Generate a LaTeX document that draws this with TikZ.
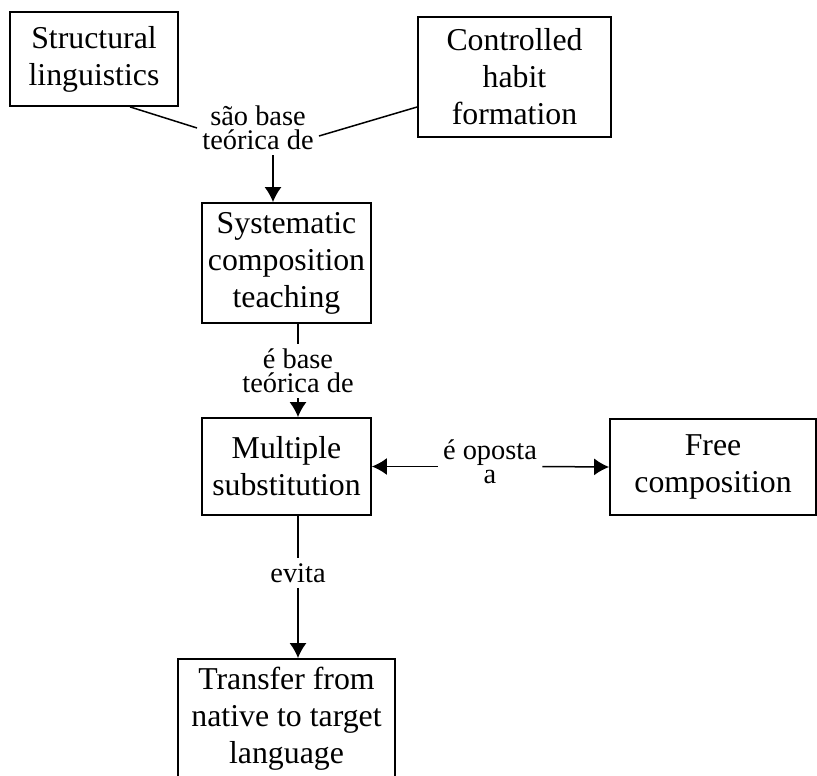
\documentclass[tikz,border=0pt]{standalone}
\usepackage{fontspec}
\setmainfont{Liberation Serif}
\usetikzlibrary{arrows.meta, positioning}

\begin{document}
\begin{tikzpicture}[x=0.5pt, y=-0.5pt,
        caja/.style={draw, line width=0.9pt, align=center, inner sep=0pt,
            font=\fontsize{15.9pt}{18.5pt}\selectfont},
        rel/.style={align=center, inner sep=2.5pt,
            font=\fontsize{14.2pt}{11.8pt}\selectfont},
        linea/.style={line width=0.75pt},
        flecha/.style={line width=0.75pt, -{Latex[length=7.5pt,width=8.5pt]}}]
        \useasboundingbox (0,0) rectangle (817,775);

        % Conceptos
        \node[caja, minimum width=84pt, minimum height=47pt] (estructural) at (94,59) {Structural\\linguistics};
        \node[caja, minimum width=96.5pt, minimum height=60pt] (habito) at (514.5,77) {Controlled\\habit\\formation};
        \node[caja, minimum width=84.5pt, minimum height=60pt] (sistematica) at (286.5,263) {Systematic\\composition\\teaching};
        \node[caja, minimum width=84.5pt, minimum height=48.5pt] (multiple) at (286.5,466.5) {Multiple\\substitution};
        \node[caja, minimum width=103pt, minimum height=48pt] (libre) at (713,467) {Free\\composition};
        \node[caja, minimum width=108.5pt, minimum height=60pt] (transfer) at (286.5,719) {Transfer from\\native to target\\language};

        % Relaciones
        \node[rel] (base1) at (258,128) {são base\\teórica de};
        \node[rel] (base2) at (298,371) {é base\\teórica de};
        \node[rel] (oposta) at (490,462) {é oposta\\a};
        \node[rel] (evita) at (298,573) {evita};

        % Conectores
        \draw[linea] ([xshift=18pt]estructural.south) -- (base1.west);
        \draw[linea] ([yshift=-4pt]base1.east) -- ([yshift=-15pt]habito.west);
        \draw[flecha] ([xshift=7.5pt]base1.south) -- ([xshift=-6.75pt]sistematica.north);
        \draw[linea] ([xshift=5.75pt]sistematica.south) -- (base2.north);
        \draw[flecha] (base2.south) -- (base2.south |- multiple.north);
        \draw[flecha] (oposta.west |- multiple.east) -- (multiple.east);
        \draw[flecha] (oposta.east |- multiple.east) -- (libre.west);
        \draw[linea] (multiple.south -| evita) -- (evita.north);
        \draw[flecha] (evita.south) -- (evita.south |- transfer.north);
    \end{tikzpicture}
\end{document}
